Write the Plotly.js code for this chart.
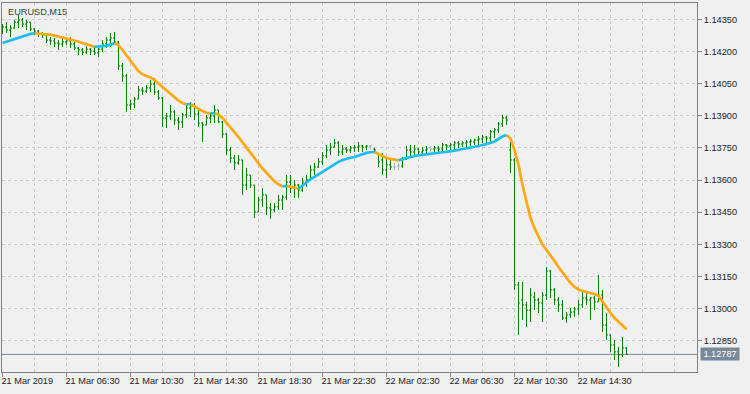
<!DOCTYPE html>
<html>
<head>
<meta charset="utf-8">
<script src="https://cdn.plot.ly/plotly-3.0.1.min.js"></script>
<style>html,body{margin:0;padding:0;background:#f0f0f0;}#chart{width:750px;height:394px;}</style>
</head>
<body>
<div id="chart"></div>
<script>
// EURUSD M15 bars (bar index 0 = 21 Mar 2019 02:30)
const symbolTitle = 'EURUSD,M15';
const tickIdx = [0, 16, 32, 48, 64, 80, 96, 112, 128, 144];
const tickText = ['21 Mar 2019', '21 Mar 06:30', '21 Mar 10:30', '21 Mar 14:30', '21 Mar 18:30',
                  '21 Mar 22:30', '22 Mar 02:30', '22 Mar 06:30', '22 Mar 10:30', '22 Mar 14:30'];

const open = [
 1.14300,1.14314,1.14300,1.14309,1.14337,1.14347,1.14328,1.14337,1.14305,1.14295,
 1.14281,1.14277,1.14253,1.14249,1.14239,1.14235,1.14244,1.14249,1.14235,1.14216,
 1.14207,1.14197,1.14211,1.14202,1.14193,1.14211,1.14235,1.14253,1.14263,1.14244,
 1.14132,1.14086,1.13950,1.13955,1.13978,1.14020,1.14016,1.14030,1.14048,1.14011,
 1.13983,1.13890,1.13899,1.13918,1.13880,1.13871,1.13904,1.13936,1.13946,1.13908,
 1.13866,1.13857,1.13890,1.13899,1.13927,1.13871,1.13815,1.13740,1.13703,1.13680,
 1.13694,1.13577,1.13624,1.13577,1.13451,1.13507,1.13531,1.13470,1.13461,1.13475,
 1.13507,1.13521,1.13591,1.13563,1.13577,1.13554,1.13591,1.13601,1.13647,1.13661,
 1.13685,1.13713,1.13740,1.13754,1.13773,1.13731,1.13745,1.13740,1.13750,1.13754,
 1.13759,1.13754,1.13759,1.13745,1.13722,1.13694,1.13647,1.13671,1.13661,1.13666,
 1.13666,1.13699,1.13740,1.13731,1.13745,1.13731,1.13740,1.13745,1.13745,1.13750,
 1.13745,1.13764,1.13759,1.13764,1.13773,1.13768,1.13773,1.13778,1.13778,1.13787,
 1.13792,1.13801,1.13796,1.13825,1.13834,1.13862,1.13890,1.13740,1.13694,1.13111,
 1.13041,1.13018,1.12994,1.13055,1.13041,1.13027,1.13064,1.13176,1.13088,1.13041,
 1.13018,1.12957,1.12971,1.12985,1.12999,1.13018,1.13050,1.13041,1.13050,1.13032,
 1.13064,1.12924,1.12878,1.12831,1.12799,1.12785,1.12817];

const high = [
 1.14328,1.14337,1.14323,1.14347,1.14370,1.14356,1.14347,1.14337,1.14309,1.14300,
 1.14291,1.14286,1.14267,1.14263,1.14253,1.14263,1.14263,1.14267,1.14244,1.14221,
 1.14216,1.14225,1.14216,1.14221,1.14216,1.14253,1.14267,1.14286,1.14291,1.14249,
 1.14146,1.14095,1.13974,1.13988,1.14039,1.14034,1.14044,1.14067,1.14076,1.14020,
 1.13988,1.13913,1.13950,1.13927,1.13894,1.13913,1.13950,1.13964,1.13960,1.13927,
 1.13871,1.13904,1.13913,1.13950,1.13927,1.13876,1.13820,1.13754,1.13717,1.13717,
 1.13694,1.13657,1.13624,1.13577,1.13521,1.13563,1.13531,1.13493,1.13493,1.13531,
 1.13531,1.13624,1.13624,1.13601,1.13582,1.13610,1.13624,1.13671,1.13680,1.13703,
 1.13731,1.13764,1.13773,1.13792,1.13782,1.13764,1.13754,1.13759,1.13764,1.13778,
 1.13764,1.13764,1.13764,1.13750,1.13727,1.13727,1.13708,1.13694,1.13680,1.13680,
 1.13708,1.13759,1.13764,1.13764,1.13750,1.13754,1.13759,1.13759,1.13759,1.13759,
 1.13773,1.13768,1.13773,1.13782,1.13782,1.13782,1.13787,1.13792,1.13792,1.13806,
 1.13810,1.13806,1.13834,1.13843,1.13871,1.13904,1.13899,1.13778,1.13703,1.13125,
 1.13125,1.13032,1.13097,1.13078,1.13050,1.13078,1.13195,1.13181,1.13097,1.13055,
 1.13041,1.12985,1.13004,1.13008,1.13041,1.13078,1.13074,1.13055,1.13060,1.13158,
 1.13088,1.12980,1.12878,1.12855,1.12822,1.12869,1.12822];

const low = [
 1.14281,1.14286,1.14267,1.14305,1.14309,1.14314,1.14300,1.14295,1.14277,1.14267,
 1.14263,1.14239,1.14230,1.14221,1.14207,1.14221,1.14230,1.14216,1.14207,1.14183,
 1.14183,1.14188,1.14183,1.14183,1.14174,1.14197,1.14216,1.14221,1.14239,1.14114,
 1.14058,1.13918,1.13927,1.13936,1.13978,1.13997,1.14006,1.14011,1.13997,1.13974,
 1.13848,1.13843,1.13880,1.13857,1.13834,1.13843,1.13890,1.13894,1.13880,1.13848,
 1.13778,1.13857,1.13866,1.13866,1.13866,1.13796,1.13717,1.13680,1.13647,1.13671,
 1.13531,1.13554,1.13563,1.13423,1.13451,1.13475,1.13437,1.13419,1.13451,1.13461,
 1.13461,1.13507,1.13540,1.13517,1.13517,1.13545,1.13568,1.13601,1.13624,1.13657,
 1.13671,1.13703,1.13717,1.13750,1.13713,1.13717,1.13727,1.13727,1.13731,1.13731,
 1.13731,1.13740,1.13745,1.13727,1.13661,1.13624,1.13610,1.13647,1.13647,1.13647,
 1.13657,1.13694,1.13703,1.13717,1.13717,1.13722,1.13722,1.13731,1.13731,1.13727,
 1.13731,1.13740,1.13736,1.13740,1.13750,1.13754,1.13754,1.13759,1.13764,1.13764,
 1.13773,1.13773,1.13773,1.13796,1.13820,1.13848,1.13857,1.13633,1.13088,1.12878,
 1.12948,1.12915,1.12938,1.12994,1.12980,1.12938,1.13041,1.13050,1.13018,1.12985,
 1.12948,1.12934,1.12957,1.12962,1.12971,1.13004,1.13018,1.12948,1.12994,1.13032,
 1.12892,1.12855,1.12799,1.12761,1.12729,1.12775,1.12785];

const close = [
 1.14314,1.14300,1.14309,1.14337,1.14347,1.14328,1.14337,1.14305,1.14295,1.14281,
 1.14277,1.14253,1.14249,1.14239,1.14235,1.14244,1.14249,1.14235,1.14216,1.14207,
 1.14197,1.14211,1.14202,1.14193,1.14211,1.14235,1.14253,1.14263,1.14244,1.14132,
 1.14086,1.13950,1.13955,1.13978,1.14020,1.14016,1.14030,1.14048,1.14011,1.13983,
 1.13890,1.13899,1.13918,1.13880,1.13871,1.13904,1.13936,1.13946,1.13908,1.13866,
 1.13857,1.13890,1.13899,1.13927,1.13871,1.13815,1.13740,1.13703,1.13680,1.13694,
 1.13577,1.13624,1.13577,1.13451,1.13507,1.13531,1.13470,1.13461,1.13475,1.13507,
 1.13521,1.13591,1.13563,1.13577,1.13554,1.13591,1.13601,1.13647,1.13661,1.13685,
 1.13713,1.13740,1.13754,1.13773,1.13731,1.13745,1.13740,1.13750,1.13754,1.13759,
 1.13754,1.13759,1.13759,1.13740,1.13685,1.13647,1.13671,1.13661,1.13661,1.13666,
 1.13699,1.13740,1.13731,1.13745,1.13731,1.13740,1.13745,1.13745,1.13750,1.13745,
 1.13764,1.13759,1.13764,1.13773,1.13768,1.13773,1.13778,1.13782,1.13787,1.13792,
 1.13801,1.13796,1.13825,1.13834,1.13862,1.13890,1.13880,1.13694,1.13111,1.13027,
 1.13018,1.12994,1.13064,1.13041,1.13027,1.13064,1.13176,1.13088,1.13041,1.13018,
 1.12957,1.12971,1.12985,1.12999,1.13018,1.13050,1.13041,1.13050,1.13032,1.13064,
 1.12924,1.12878,1.12831,1.12799,1.12785,1.12817,1.12787];

// moving-average indicator values
const ma = [
 1.14239,1.14245,1.14251,1.14257,1.14265,1.14272,1.14278,1.14282,1.14285,1.14284,
 1.14283,1.14281,1.14278,1.14274,1.14270,1.14265,1.14260,1.14256,1.14251,1.14245,
 1.14239,1.14232,1.14226,1.14222,1.14223,1.14224,1.14226,1.14232,1.14238,1.14230,
 1.14207,1.14181,1.14153,1.14128,1.14107,1.14093,1.14086,1.14079,1.14067,1.14051,
 1.14034,1.14018,1.14002,1.13985,1.13971,1.13960,1.13953,1.13955,1.13943,1.13932,
 1.13922,1.13914,1.13911,1.13912,1.13906,1.13890,1.13869,1.13848,1.13824,1.13801,
 1.13776,1.13750,1.13724,1.13701,1.13678,1.13654,1.13633,1.13612,1.13594,1.13580,
 1.13570,1.13573,1.13568,1.13563,1.13561,1.13573,1.13589,1.13603,1.13615,1.13626,
 1.13638,1.13650,1.13661,1.13673,1.13685,1.13694,1.13700,1.13704,1.13708,1.13715,
 1.13722,1.13727,1.13730,1.13731,1.13722,1.13710,1.13703,1.13699,1.13694,1.13692,
 1.13696,1.13703,1.13708,1.13713,1.13716,1.13718,1.13721,1.13723,1.13725,1.13727,
 1.13730,1.13732,1.13734,1.13738,1.13741,1.13745,1.13748,1.13752,1.13755,1.13759,
 1.13764,1.13768,1.13773,1.13780,1.13792,1.13803,1.13810,1.13794,1.13740,1.13671,
 1.13577,1.13493,1.13423,1.13377,1.13340,1.13298,1.13274,1.13251,1.13223,1.13195,
 1.13169,1.13144,1.13120,1.13102,1.13090,1.13083,1.13078,1.13074,1.13069,1.13060,
 1.13032,1.13004,1.12980,1.12957,1.12938,1.12920,1.12904];

const BAR_COLOR = '#0a7f0a';
const DOJI_COLOR = '#b0b0b0';
const UP_COLOR = '#1ebcf0';
const DN_COLOR = '#ffa812';
const GRID = '#c9c9c9';
const FRAME = '#808080';
const FONT = 'Liberation Sans, Arial, sans-serif';

const idx = close.map((_, i) => i);
const normalIds = idx.filter(i => open[i] !== close[i]);
const dojiIds = idx.filter(i => open[i] === close[i]);

function ohlcTrace(ids, color) {
  return {
    type: 'ohlc',
    x: ids,
    open: ids.map(i => open[i]),
    high: ids.map(i => high[i]),
    low: ids.map(i => low[i]),
    close: ids.map(i => close[i]),
    increasing: {line: {color: color, width: 1}},
    decreasing: {line: {color: color, width: 1}},
    line: {width: 1},
    tickwidth: 0.375,
    hoverinfo: 'skip',
    showlegend: false
  };
}

// split the indicator into rising (cyan) / falling (orange) runs
const upX = [], upY = [], dnX = [], dnY = [];
function pushRun(s, e, up) {
  const X = up ? upX : dnX, Y = up ? upY : dnY;
  for (let i = s; i <= e; i++) { X.push(i); Y.push(ma[i]); }
  X.push(null); Y.push(null);
}
let runStart = 0;
let runUp = ma[1] >= ma[0];
for (let k = 1; k < ma.length - 1; k++) {
  const up = ma[k + 1] >= ma[k];
  if (up !== runUp) { pushRun(runStart, k, runUp); runStart = k; runUp = up; }
}
pushRun(runStart, ma.length - 1, runUp);

const lastPrice = close[close.length - 1];

const traces = [
  ohlcTrace(normalIds, BAR_COLOR),
  ohlcTrace(dojiIds, DOJI_COLOR),
  {type: 'scatter', mode: 'lines', x: dnX, y: dnY, line: {color: DN_COLOR, width: 2.7}, hoverinfo: 'skip', showlegend: false, connectgaps: false},
  {type: 'scatter', mode: 'lines', x: upX, y: upY, line: {color: UP_COLOR, width: 2.7}, hoverinfo: 'skip', showlegend: false, connectgaps: false}
];

const layout = {
  width: 750, height: 394,
  margin: {l: 2, r: 53, t: 3, b: 22, pad: 0},
  paper_bgcolor: '#f0f0f0',
  plot_bgcolor: '#f0f0f0',
  showlegend: false,
  font: {family: FONT, size: 9.2, color: '#222222'},
  xaxis: {
    type: 'linear',
    range: [-0.125, 173.625],
    fixedrange: true,
    rangeslider: {visible: false},
    tickmode: 'array', tickvals: tickIdx, ticktext: tickText,
    ticks: 'outside', ticklen: 4, tickwidth: 1, tickcolor: FRAME,
    ticklabelposition: 'outside right',
    ticklabelshift: -2,
    showgrid: true, gridcolor: GRID, gridwidth: 1, griddash: '3px,3px',
    minor: {tickmode: 'linear', tick0: 0, dtick: 8, showgrid: true, gridcolor: GRID, gridwidth: 1, griddash: '3px,3px', ticklen: 0},
    showline: true, mirror: true, linecolor: FRAME, linewidth: 1,
    zeroline: false
  },
  yaxis: {
    side: 'right',
    range: [1.12705, 1.14426],
    fixedrange: true,
    tickmode: 'linear', tick0: 1.1285, dtick: 0.0015, tickformat: '.5f',
    ticks: 'outside', ticklen: 4, tickwidth: 1, tickcolor: FRAME,
    showgrid: true, gridcolor: GRID, gridwidth: 1, griddash: '3px,3px',
    showline: true, mirror: true, linecolor: FRAME, linewidth: 1,
    zeroline: false
  },
  shapes: [{
    type: 'line', xref: 'paper', x0: 0, x1: 1, yref: 'y', y0: lastPrice, y1: lastPrice,
    line: {color: '#7c8894', width: 1}, layer: 'below'
  }],
  annotations: [
    {xref: 'paper', yref: 'paper', x: 0, y: 1, xanchor: 'left', yanchor: 'top', xshift: 4, yshift: -2,
     text: symbolTitle, showarrow: false, font: {family: FONT, size: 9.2, color: '#404040'}},
    {xref: 'paper', yref: 'y', x: 1, y: lastPrice, xanchor: 'left', yanchor: 'middle', xshift: 3,
     text: lastPrice.toFixed(5), showarrow: false, bgcolor: '#7a8997', borderpad: 1,
     width: 36, height: 10, font: {family: FONT, size: 9.2, color: '#ffffff'}}
  ]
};

Plotly.newPlot('chart', traces, layout, {staticPlot: true, displayModeBar: false});
</script>
</body>
</html>
